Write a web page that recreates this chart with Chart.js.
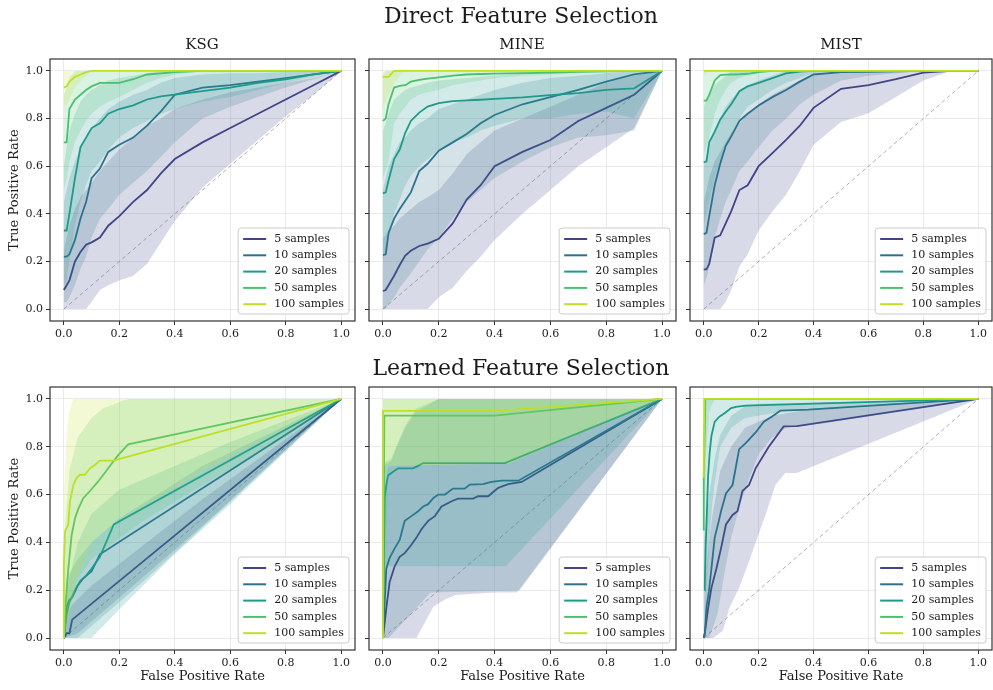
<!DOCTYPE html>
<html>
<head>
<meta charset="utf-8">
<script src="https://cdn.jsdelivr.net/npm/chart.js@4.4.0/dist/chart.umd.min.js"></script>
<style>
  body { margin: 0; background: #fff; width: 993px; height: 690px; position: relative; overflow: hidden; font-family: 'DejaVu Serif', serif; }
  canvas { position: absolute; }
  .t { position: absolute; transform: translate(-50%, -50%); white-space: nowrap; color: #1a1a1a; }
</style>
</head>
<body>
<script>
const sampleLabels = ['5 samples', '10 samples', '20 samples', '50 samples', '100 samples'];
const colors = ['#414487', '#2c728e', '#1f9a8a', '#4ac16d', '#bddf26'];
const tickValues = [0, 0.2, 0.4, 0.6, 0.8, 1.0];

// direct feature selection: all curves read on one FPR grid
const topFpr = [0, 0.01, 0.02, 0.04, 0.06, 0.08, 0.1, 0.13, 0.16, 0.2, 0.25, 0.3, 0.35, 0.4, 0.5, 0.6, 0.7, 0.8, 0.9, 1.0];

const ksgDirectMean = [
  [0.08, 0.10, 0.12, 0.20, 0.24, 0.27, 0.28, 0.30, 0.35, 0.39, 0.45, 0.50, 0.57, 0.63, 0.70, 0.76, 0.82, 0.88, 0.94, 1],
  [0.22, 0.22, 0.23, 0.29, 0.38, 0.45, 0.55, 0.59, 0.66, 0.69, 0.72, 0.77, 0.83, 0.90, 0.93, 0.94, 0.955, 0.97, 0.985, 1],
  [0.33, 0.33, 0.40, 0.55, 0.68, 0.72, 0.76, 0.78, 0.82, 0.84, 0.855, 0.88, 0.893, 0.90, 0.915, 0.93, 0.95, 0.965, 0.985, 1],
  [0.70, 0.70, 0.84, 0.88, 0.90, 0.92, 0.935, 0.95, 0.95, 0.95, 0.965, 0.985, 0.99, 0.995, 1, 1, 1, 1, 1, 1],
  [0.93, 0.935, 0.955, 0.975, 0.985, 0.995, 1, 1, 1, 1, 1, 1, 1, 1, 1, 1, 1, 1, 1, 1]
];
const ksgDirectLo = [
  [0, 0, 0, 0, 0, 0, 0.03, 0.08, 0.10, 0.12, 0.14, 0.19, 0.28, 0.37, 0.51, 0.61, 0.71, 0.81, 0.90, 1],
  [0.03, 0.03, 0.05, 0.10, 0.17, 0.22, 0.30, 0.38, 0.42, 0.48, 0.53, 0.58, 0.64, 0.70, 0.80, 0.85, 0.89, 0.93, 0.965, 1],
  [0.10, 0.12, 0.20, 0.35, 0.45, 0.52, 0.58, 0.62, 0.67, 0.72, 0.76, 0.79, 0.82, 0.84, 0.87, 0.89, 0.92, 0.95, 0.975, 1],
  [0.50, 0.55, 0.62, 0.70, 0.75, 0.79, 0.82, 0.85, 0.87, 0.89, 0.92, 0.95, 0.97, 0.985, 1, 1, 1, 1, 1, 1],
  [0.85, 0.86, 0.88, 0.93, 0.96, 0.98, 1, 1, 1, 1, 1, 1, 1, 1, 1, 1, 1, 1, 1, 1]
];
const ksgDirectHi = [
  [0.25, 0.30, 0.35, 0.42, 0.47, 0.50, 0.53, 0.58, 0.62, 0.67, 0.72, 0.77, 0.80, 0.84, 0.88, 0.91, 0.93, 0.95, 0.97, 1],
  [0.45, 0.50, 0.55, 0.62, 0.68, 0.72, 0.76, 0.80, 0.84, 0.87, 0.90, 0.92, 0.95, 0.97, 0.985, 0.99, 0.99, 0.995, 1, 1],
  [0.60, 0.68, 0.75, 0.82, 0.87, 0.90, 0.92, 0.94, 0.96, 0.97, 0.98, 0.99, 1, 1, 1, 1, 1, 1, 1, 1],
  [0.90, 0.93, 0.97, 1, 1, 1, 1, 1, 1, 1, 1, 1, 1, 1, 1, 1, 1, 1, 1, 1],
  [1, 1, 1, 1, 1, 1, 1, 1, 1, 1, 1, 1, 1, 1, 1, 1, 1, 1, 1, 1]
];

const mineDirectMean = [
  [0.076, 0.08, 0.10, 0.14, 0.185, 0.225, 0.245, 0.265, 0.275, 0.295, 0.36, 0.46, 0.52, 0.60, 0.66, 0.71, 0.79, 0.845, 0.90, 1],
  [0.227, 0.23, 0.32, 0.38, 0.42, 0.455, 0.49, 0.58, 0.61, 0.665, 0.70, 0.735, 0.78, 0.815, 0.86, 0.89, 0.92, 0.955, 0.985, 1],
  [0.486, 0.49, 0.54, 0.63, 0.67, 0.74, 0.79, 0.825, 0.85, 0.865, 0.873, 0.876, 0.879, 0.883, 0.889, 0.898, 0.907, 0.92, 0.927, 1],
  [0.79, 0.80, 0.86, 0.93, 0.937, 0.94, 0.955, 0.962, 0.968, 0.973, 0.98, 0.985, 0.987, 0.989, 0.991, 0.993, 0.996, 0.998, 1, 1],
  [0.975, 0.975, 0.975, 1, 1, 1, 1, 1, 1, 1, 1, 1, 1, 1, 1, 1, 1, 1, 1, 1]
];
const mineDirectLo = [
  [0, 0, 0, 0, 0, 0, 0, 0, 0, 0.05, 0.09, 0.16, 0.22, 0.29, 0.40, 0.50, 0.60, 0.68, 0.76, 1],
  [0, 0, 0.02, 0.05, 0.09, 0.12, 0.15, 0.20, 0.25, 0.30, 0.38, 0.45, 0.50, 0.55, 0.62, 0.68, 0.72, 0.73, 0.75, 1],
  [0.20, 0.25, 0.30, 0.40, 0.46, 0.52, 0.56, 0.60, 0.63, 0.67, 0.70, 0.72, 0.75, 0.77, 0.80, 0.80, 0.82, 0.83, 0.80, 1],
  [0.55, 0.58, 0.62, 0.78, 0.82, 0.85, 0.88, 0.90, 0.91, 0.92, 0.94, 0.95, 0.96, 0.97, 0.98, 0.985, 0.99, 1, 1, 1],
  [0.85, 0.87, 0.90, 0.95, 0.98, 1, 1, 1, 1, 1, 1, 1, 1, 1, 1, 1, 1, 1, 1, 1]
];
const mineDirectHi = [
  [0.30, 0.31, 0.33, 0.35, 0.38, 0.40, 0.42, 0.45, 0.47, 0.50, 0.57, 0.65, 0.70, 0.75, 0.80, 0.85, 0.90, 0.95, 0.98, 1],
  [0.50, 0.55, 0.60, 0.65, 0.70, 0.72, 0.75, 0.78, 0.80, 0.84, 0.86, 0.88, 0.90, 0.92, 0.95, 0.97, 0.98, 0.99, 1, 1],
  [0.75, 0.78, 0.82, 0.88, 0.90, 0.92, 0.93, 0.94, 0.95, 0.96, 0.965, 0.97, 0.975, 0.98, 0.99, 1, 1, 1, 1, 1],
  [0.98, 1, 1, 1, 1, 1, 1, 1, 1, 1, 1, 1, 1, 1, 1, 1, 1, 1, 1, 1],
  [1, 1, 1, 1, 1, 1, 1, 1, 1, 1, 1, 1, 1, 1, 1, 1, 1, 1, 1, 1]
];

const mistDirectMean = [
  [0.167, 0.167, 0.19, 0.30, 0.31, 0.36, 0.41, 0.50, 0.52, 0.60, 0.655, 0.71, 0.77, 0.845, 0.925, 0.94, 0.965, 0.993, 1, 1],
  [0.315, 0.32, 0.39, 0.52, 0.61, 0.685, 0.725, 0.79, 0.82, 0.855, 0.89, 0.92, 0.955, 0.985, 0.995, 0.996, 0.998, 1, 1, 1],
  [0.616, 0.62, 0.70, 0.745, 0.795, 0.83, 0.86, 0.915, 0.935, 0.95, 0.97, 0.99, 0.997, 1, 1, 1, 1, 1, 1, 1],
  [0.875, 0.875, 0.90, 0.96, 0.982, 0.984, 0.985, 0.986, 0.988, 0.995, 1, 1, 1, 1, 1, 1, 1, 1, 1, 1],
  [1, 1, 1, 1, 1, 1, 1, 1, 1, 1, 1, 1, 1, 1, 1, 1, 1, 1, 1, 1]
];
const mistDirectLo = [
  [0, 0, 0, 0, 0, 0.03, 0.08, 0.18, 0.23, 0.33, 0.41, 0.48, 0.58, 0.69, 0.785, 0.822, 0.89, 0.96, 1, 1],
  [0.10, 0.13, 0.18, 0.30, 0.38, 0.45, 0.50, 0.58, 0.62, 0.68, 0.75, 0.80, 0.86, 0.90, 0.96, 0.98, 0.99, 1, 1, 1],
  [0.35, 0.40, 0.45, 0.55, 0.62, 0.68, 0.73, 0.80, 0.85, 0.88, 0.92, 0.95, 0.97, 0.99, 1, 1, 1, 1, 1, 1],
  [0.65, 0.68, 0.72, 0.82, 0.88, 0.92, 0.95, 0.97, 0.98, 0.99, 1, 1, 1, 1, 1, 1, 1, 1, 1, 1],
  [0.98, 0.99, 1, 1, 1, 1, 1, 1, 1, 1, 1, 1, 1, 1, 1, 1, 1, 1, 1, 1]
];
const mistDirectHi = [
  [0.45, 0.50, 0.55, 0.62, 0.66, 0.70, 0.74, 0.78, 0.82, 0.86, 0.90, 0.93, 0.96, 0.98, 1, 1, 1, 1, 1, 1],
  [0.60, 0.64, 0.68, 0.75, 0.80, 0.85, 0.88, 0.92, 0.94, 0.96, 0.98, 1, 1, 1, 1, 1, 1, 1, 1, 1],
  [0.85, 0.88, 0.90, 0.94, 0.96, 0.98, 1, 1, 1, 1, 1, 1, 1, 1, 1, 1, 1, 1, 1, 1],
  [1, 1, 1, 1, 1, 1, 1, 1, 1, 1, 1, 1, 1, 1, 1, 1, 1, 1, 1, 1],
  [1, 1, 1, 1, 1, 1, 1, 1, 1, 1, 1, 1, 1, 1, 1, 1, 1, 1, 1, 1]
];

// learned feature selection: [fpr, tpr] points read at each curve's own corners
const ksgLearnedMean = [
  [[0, 0], [0.01, 0.02], [0.02, 0.02], [0.03, 0.077], [1, 1]],
  [[0, 0], [0.01, 0.13], [0.02, 0.16], [0.03, 0.17], [0.05, 0.22], [0.07, 0.25], [0.1, 0.28], [0.13, 0.35], [1, 1]],
  [[0, 0], [0.01, 0.1], [0.02, 0.15], [0.04, 0.2], [0.06, 0.24], [0.08, 0.26], [0.1, 0.29], [0.13, 0.34], [0.18, 0.475], [1, 1]],
  [[0, 0], [0.004, 0.1], [0.01, 0.2], [0.016, 0.29], [0.028, 0.43], [0.04, 0.5], [0.052, 0.54], [0.07, 0.585], [0.094, 0.615], [0.124, 0.655], [0.16, 0.71], [0.196, 0.765], [0.232, 0.81], [1, 1]],
  [[0, 0], [0, 0.3], [0.004, 0.445], [0.016, 0.475], [0.022, 0.57], [0.034, 0.64], [0.046, 0.67], [0.058, 0.683], [0.076, 0.683], [0.094, 0.71], [0.112, 0.725], [0.13, 0.742], [0.178, 0.742], [1, 1]]
];
const ksgLearnedLo = [
  [[0, 0], [0.05, 0.02], [0.2, 0.17], [0.5, 0.47], [1, 1]],
  [[0, 0], [0.05, 0], [0.1, 0.05], [0.3, 0.25], [0.6, 0.57], [1, 1]],
  [[0, 0], [0.1, 0], [0.2, 0.12], [0.4, 0.35], [0.6, 0.56], [0.8, 0.78], [1, 1]],
  [[0, 0], [0.02, 0.12], [0.05, 0.25], [0.1, 0.33], [0.2, 0.42], [0.3, 0.5], [0.5, 0.64], [0.8, 0.84], [1, 1]],
  [[0, 0], [0.02, 0.1], [0.05, 0.25], [0.1, 0.4], [0.2, 0.5], [0.3, 0.56], [0.5, 0.7], [1, 1]]
];
const ksgLearnedHi = [
  [[0, 0], [0.01, 0.1], [0.03, 0.14], [0.1, 0.22], [0.5, 0.58], [1, 1]],
  [[0, 0], [0.01, 0.25], [0.05, 0.33], [0.1, 0.4], [0.2, 0.5], [0.5, 0.72], [1, 1]],
  [[0, 0], [0.01, 0.2], [0.05, 0.4], [0.1, 0.52], [0.2, 0.62], [0.4, 0.72], [0.6, 0.82], [0.8, 0.91], [1, 1]],
  [[0, 0], [0, 0.4], [0.02, 0.7], [0.05, 0.84], [0.1, 0.92], [0.14, 0.96], [0.23, 1], [1, 1]],
  [[0, 0], [0, 0.6], [0.01, 0.85], [0.02, 0.95], [0.034, 1], [1, 1]]
];

const mineLearnedMean = [
  [[0, 0], [0.012, 0.125], [0.024, 0.235], [0.042, 0.3], [0.06, 0.34], [0.078, 0.355], [0.102, 0.39], [0.12, 0.42], [0.138, 0.455], [0.162, 0.49], [0.186, 0.51], [0.21, 0.55], [0.246, 0.572], [0.269, 0.583], [0.323, 0.583], [0.341, 0.593], [0.377, 0.593], [0.413, 0.628], [0.449, 0.644], [0.497, 0.653], [1, 1]],
  [[0, 0], [0.012, 0.29], [0.024, 0.335], [0.042, 0.375], [0.06, 0.41], [0.078, 0.49], [0.102, 0.51], [0.126, 0.53], [0.144, 0.55], [0.162, 0.56], [0.18, 0.585], [0.198, 0.6], [0.222, 0.6], [0.251, 0.625], [0.293, 0.625], [0.311, 0.642], [0.359, 0.644], [0.389, 0.653], [0.425, 0.658], [0.485, 0.658], [1, 1]],
  [[0, 0], [0.006, 0.59], [0.012, 0.64], [0.018, 0.68], [0.03, 0.69], [0.054, 0.71], [0.108, 0.71], [0.126, 0.72], [0.144, 0.732], [0.437, 0.732], [1, 1]],
  [[0, 0], [0.005, 0.93], [0.4, 0.93], [1, 1]],
  [[0, 0], [0, 0.95], [0.4, 0.95], [1, 1]]
];
const mineLearnedLo = [
  [[0, 0], [0.12, 0], [0.18, 0.13], [0.22, 0.16], [0.26, 0.18], [0.4, 0.19], [0.48, 0.19], [1, 1]],
  [[0, 0], [0.02, 0], [0.1, 0.1], [0.17, 0.19], [0.49, 0.2], [1, 1]],
  [[0, 0], [0.01, 0.3], [0.44, 0.3], [1, 1]],
  [[0, 0], [0.02, 0.72], [0.45, 0.73], [1, 1]],
  [[0, 0], [0, 0.72], [0.45, 0.73], [1, 1]]
];
const mineLearnedHi = [
  [[0, 0], [0.005, 0.6], [0.02, 0.72], [0.45, 0.73], [1, 1]],
  [[0, 0], [0, 0.72], [0.03, 0.74], [0.05, 0.8], [0.08, 0.88], [0.12, 0.95], [0.2, 1], [1, 1]],
  [[0, 0], [0, 0.73], [0.03, 0.75], [0.05, 0.81], [0.08, 0.89], [0.12, 0.96], [0.2, 1], [1, 1]],
  [[0, 0], [0, 1], [1, 1]],
  [[0, 0], [0, 1], [1, 1]]
];

const mistLearnedMean = [
  [[0, 0], [0.004, 0.02], [0.016, 0.125], [0.028, 0.21], [0.046, 0.29], [0.063, 0.375], [0.081, 0.475], [0.105, 0.515], [0.123, 0.53], [0.141, 0.615], [0.165, 0.64], [0.189, 0.71], [0.237, 0.8], [0.291, 0.885], [0.339, 0.886], [1, 1]],
  [[0, 0], [0.004, 0.02], [0.01, 0.13], [0.019, 0.195], [0.028, 0.29], [0.04, 0.42], [0.055, 0.49], [0.063, 0.53], [0.081, 0.605], [0.105, 0.64], [0.129, 0.79], [0.153, 0.815], [0.189, 0.86], [0.219, 0.905], [0.249, 0.927], [0.279, 0.951], [0.381, 0.955], [1, 1]],
  [[0.003, 0.2], [0.004, 0.23], [0.007, 0.38], [0.012, 0.54], [0.016, 0.68], [0.022, 0.78], [0.028, 0.845], [0.04, 0.905], [0.058, 0.927], [0.076, 0.94], [0.1, 0.962], [0.117, 0.967], [0.153, 0.972], [1, 1]],
  [[0, 0.45], [0, 0.67], [0.006, 1], [1, 1]],
  [[0, 0.67], [0.002, 1], [1, 1]]
];
const mistLearnedLo = [
  [[0, 0], [0.034, 0], [0.07, 0.03], [0.093, 0.125], [0.129, 0.21], [0.165, 0.32], [0.189, 0.4], [0.225, 0.515], [0.261, 0.64], [0.297, 0.69], [0.339, 0.69], [1, 1]],
  [[0, 0], [0.02, 0], [0.05, 0.1], [0.08, 0.3], [0.1, 0.42], [0.13, 0.55], [0.16, 0.65], [0.2, 0.77], [0.25, 0.84], [0.3, 0.88], [0.45, 0.9], [1, 1]],
  [[0, 0.05], [0.01, 0.2], [0.02, 0.4], [0.03, 0.55], [0.04, 0.65], [0.06, 0.8], [0.1, 0.88], [0.15, 0.92], [0.3, 0.95], [1, 1]],
  [[0, 0.2], [0.003, 0.5], [0.01, 0.8], [0.02, 0.95], [0.04, 1], [1, 1]],
  [[0, 0.5], [0.005, 0.9], [0.01, 1], [1, 1]]
];
const mistLearnedHi = [
  [[0, 0], [0.01, 0.3], [0.03, 0.5], [0.06, 0.7], [0.1, 0.8], [0.15, 0.88], [0.25, 0.93], [0.4, 0.96], [1, 1]],
  [[0, 0], [0, 0.4], [0.02, 0.6], [0.04, 0.75], [0.06, 0.85], [0.1, 0.93], [0.15, 0.97], [0.2, 0.98], [1, 1]],
  [[0, 0.4], [0, 1], [1, 1]],
  [[0, 0.7], [0, 1], [1, 1]],
  [[0, 1], [1, 1]]
];

const panels = [
  { row: 0, col: 0, fpr: topFpr, mean: ksgDirectMean, lo: ksgDirectLo, hi: ksgDirectHi },
  { row: 0, col: 1, fpr: topFpr, mean: mineDirectMean, lo: mineDirectLo, hi: mineDirectHi },
  { row: 0, col: 2, fpr: topFpr, mean: mistDirectMean, lo: mistDirectLo, hi: mistDirectHi },
  { row: 1, col: 0, mean: ksgLearnedMean, lo: ksgLearnedLo, hi: ksgLearnedHi },
  { row: 1, col: 1, mean: mineLearnedMean, lo: mineLearnedLo, hi: mineLearnedHi },
  { row: 1, col: 2, mean: mistLearnedMean, lo: mistLearnedLo, hi: mistLearnedHi }
];

// axes boxes in page pixels
const colBox = [[50, 355], [369, 676], [690, 992]];
const rowBox = [[59, 321], [387, 650]];
const rowEnd = [345, 690];

Chart.defaults.font.family = "'DejaVu Serif', serif";
Chart.defaults.color = '#1a1a1a';

function rgba(hex, a) {
  const n = parseInt(hex.slice(1), 16);
  return `rgba(${n >> 16},${(n >> 8) & 255},${n & 255},${a})`;
}

function toPoints(fpr, arr) {
  if (fpr) return arr.map((y, i) => ({ x: fpr[i], y }));
  return arr.map(([x, y]) => ({ x, y }));
}

// spines all round + legend in the lower right
const framePlugin = {
  id: 'frame',
  afterDatasetsDraw(chart) {
    const { ctx, chartArea: a } = chart;
    ctx.save();
    ctx.strokeStyle = '#333';
    ctx.lineWidth = 1.2;
    ctx.strokeRect(a.left, a.top, a.right - a.left, a.bottom - a.top);

    ctx.font = "11px 'DejaVu Serif'";
    const textW = Math.max(...sampleLabels.map(t => ctx.measureText(t).width));
    const w = 36 + textW + 5, h = 86;
    const bx = a.right - 6 - w, by = a.bottom - 7 - h;
    ctx.beginPath();
    ctx.roundRect(bx, by, w, h, 3);
    ctx.fillStyle = 'rgba(255,255,255,0.8)';
    ctx.fill();
    ctx.strokeStyle = '#cccccc';
    ctx.lineWidth = 1;
    ctx.stroke();
    ctx.textBaseline = 'middle';
    sampleLabels.forEach((t, k) => {
      const cy = by + 11 + k * 16.3;
      ctx.strokeStyle = colors[k];
      ctx.lineWidth = 2;
      ctx.beginPath();
      ctx.moveTo(bx + 5, cy);
      ctx.lineTo(bx + 28, cy);
      ctx.stroke();
      ctx.fillStyle = '#1a1a1a';
      ctx.fillText(t, bx + 36, cy);
    });
    ctx.restore();
  }
};

function makePanel(p) {
  const [ax0, ax1] = colBox[p.col];
  const [ay0, ay1] = rowBox[p.row];
  const left = p.col === 0 ? 0 : ax0 - 12;
  const top = ay0 - 12;
  const width = ax1 + 3 - left;
  const height = rowEnd[p.row] - top;
  const yW = ax0 - left;
  const xH = height - 12 - (ay1 - ay0);

  const cv = document.createElement('canvas');
  cv.width = width; cv.height = height;
  cv.style.left = left + 'px'; cv.style.top = top + 'px';
  cv.style.width = width + 'px'; cv.style.height = height + 'px';
  document.body.appendChild(cv);

  const datasets = [{
    data: [{ x: 0, y: 0 }, { x: 1, y: 1 }],
    borderColor: 'rgba(0,0,0,0.35)', borderWidth: 0.9, borderDash: [4, 3], fill: false, order: 100
  }];
  p.mean.forEach((m, k) => {
    datasets.push({ data: toPoints(p.fpr, p.lo[k]), borderWidth: 0, borderColor: 'transparent', fill: false, order: 99 - 4 * k });
    datasets.push({ data: toPoints(p.fpr, p.hi[k]), borderWidth: 0, borderColor: 'transparent',
      backgroundColor: rgba(colors[k], 0.2), fill: '-1', order: 98 - 4 * k });
    datasets.push({ data: toPoints(p.fpr, m), borderColor: colors[k], borderWidth: 1.8, fill: false, order: 97 - 4 * k });
  });

  const gridOpts = { color: '#e6e6e6', lineWidth: 0.8, tickLength: 4, tickColor: '#333', tickWidth: 1 };

  new Chart(cv, {
    type: 'line',
    data: { datasets },
    options: {
      responsive: false,
      animation: false,
      devicePixelRatio: 1,
      events: [],
      layout: { padding: { top: 12, right: 3, left: 0, bottom: 0 } },
      elements: { point: { radius: 0 }, line: { tension: 0 } },
      plugins: { legend: { display: false }, tooltip: { enabled: false } },
      scales: {
        x: {
          type: 'linear', min: -0.05, max: 1.05,
          afterBuildTicks: s => { s.ticks = tickValues.map(v => ({ value: v })); },
          afterFit: s => { s.height = xH; },
          ticks: { callback: v => v.toFixed(1), font: { size: 11 }, color: '#1a1a1a', padding: 3, maxRotation: 0, autoSkip: false },
          grid: gridOpts,
          border: { display: false },
          title: { display: p.row === 1, text: 'False Positive Rate', font: { size: 13 }, color: '#1a1a1a', padding: { top: 0, bottom: 6 } }
        },
        y: {
          type: 'linear', min: -0.05, max: 1.05,
          afterBuildTicks: s => { s.ticks = tickValues.map(v => ({ value: v })); },
          afterFit: s => { s.width = yW; },
          ticks: { callback: v => p.col === 0 ? v.toFixed(1) : '', font: { size: 11 }, color: '#1a1a1a', padding: 3, autoSkip: false },
          grid: gridOpts,
          border: { display: false },
          title: { display: p.col === 0, text: 'True Positive Rate', font: { size: 13 }, color: '#1a1a1a', padding: { top: 7, bottom: 0 } }
        }
      }
    },
    plugins: [framePlugin]
  });
}

panels.forEach(makePanel);

// figure and subplot titles
[
  ['Direct Feature Selection', 521, 15, 22],
  ['Learned Feature Selection', 521, 367, 22],
  ['KSG', 202, 44, 15], ['MINE', 522, 44, 15], ['MIST', 841, 44, 15]
].forEach(([text, x, y, size]) => {
  const d = document.createElement('div');
  d.className = 't';
  d.textContent = text;
  d.style.left = x + 'px'; d.style.top = y + 'px'; d.style.fontSize = size + 'px';
  document.body.appendChild(d);
});
</script>
</body>
</html>
